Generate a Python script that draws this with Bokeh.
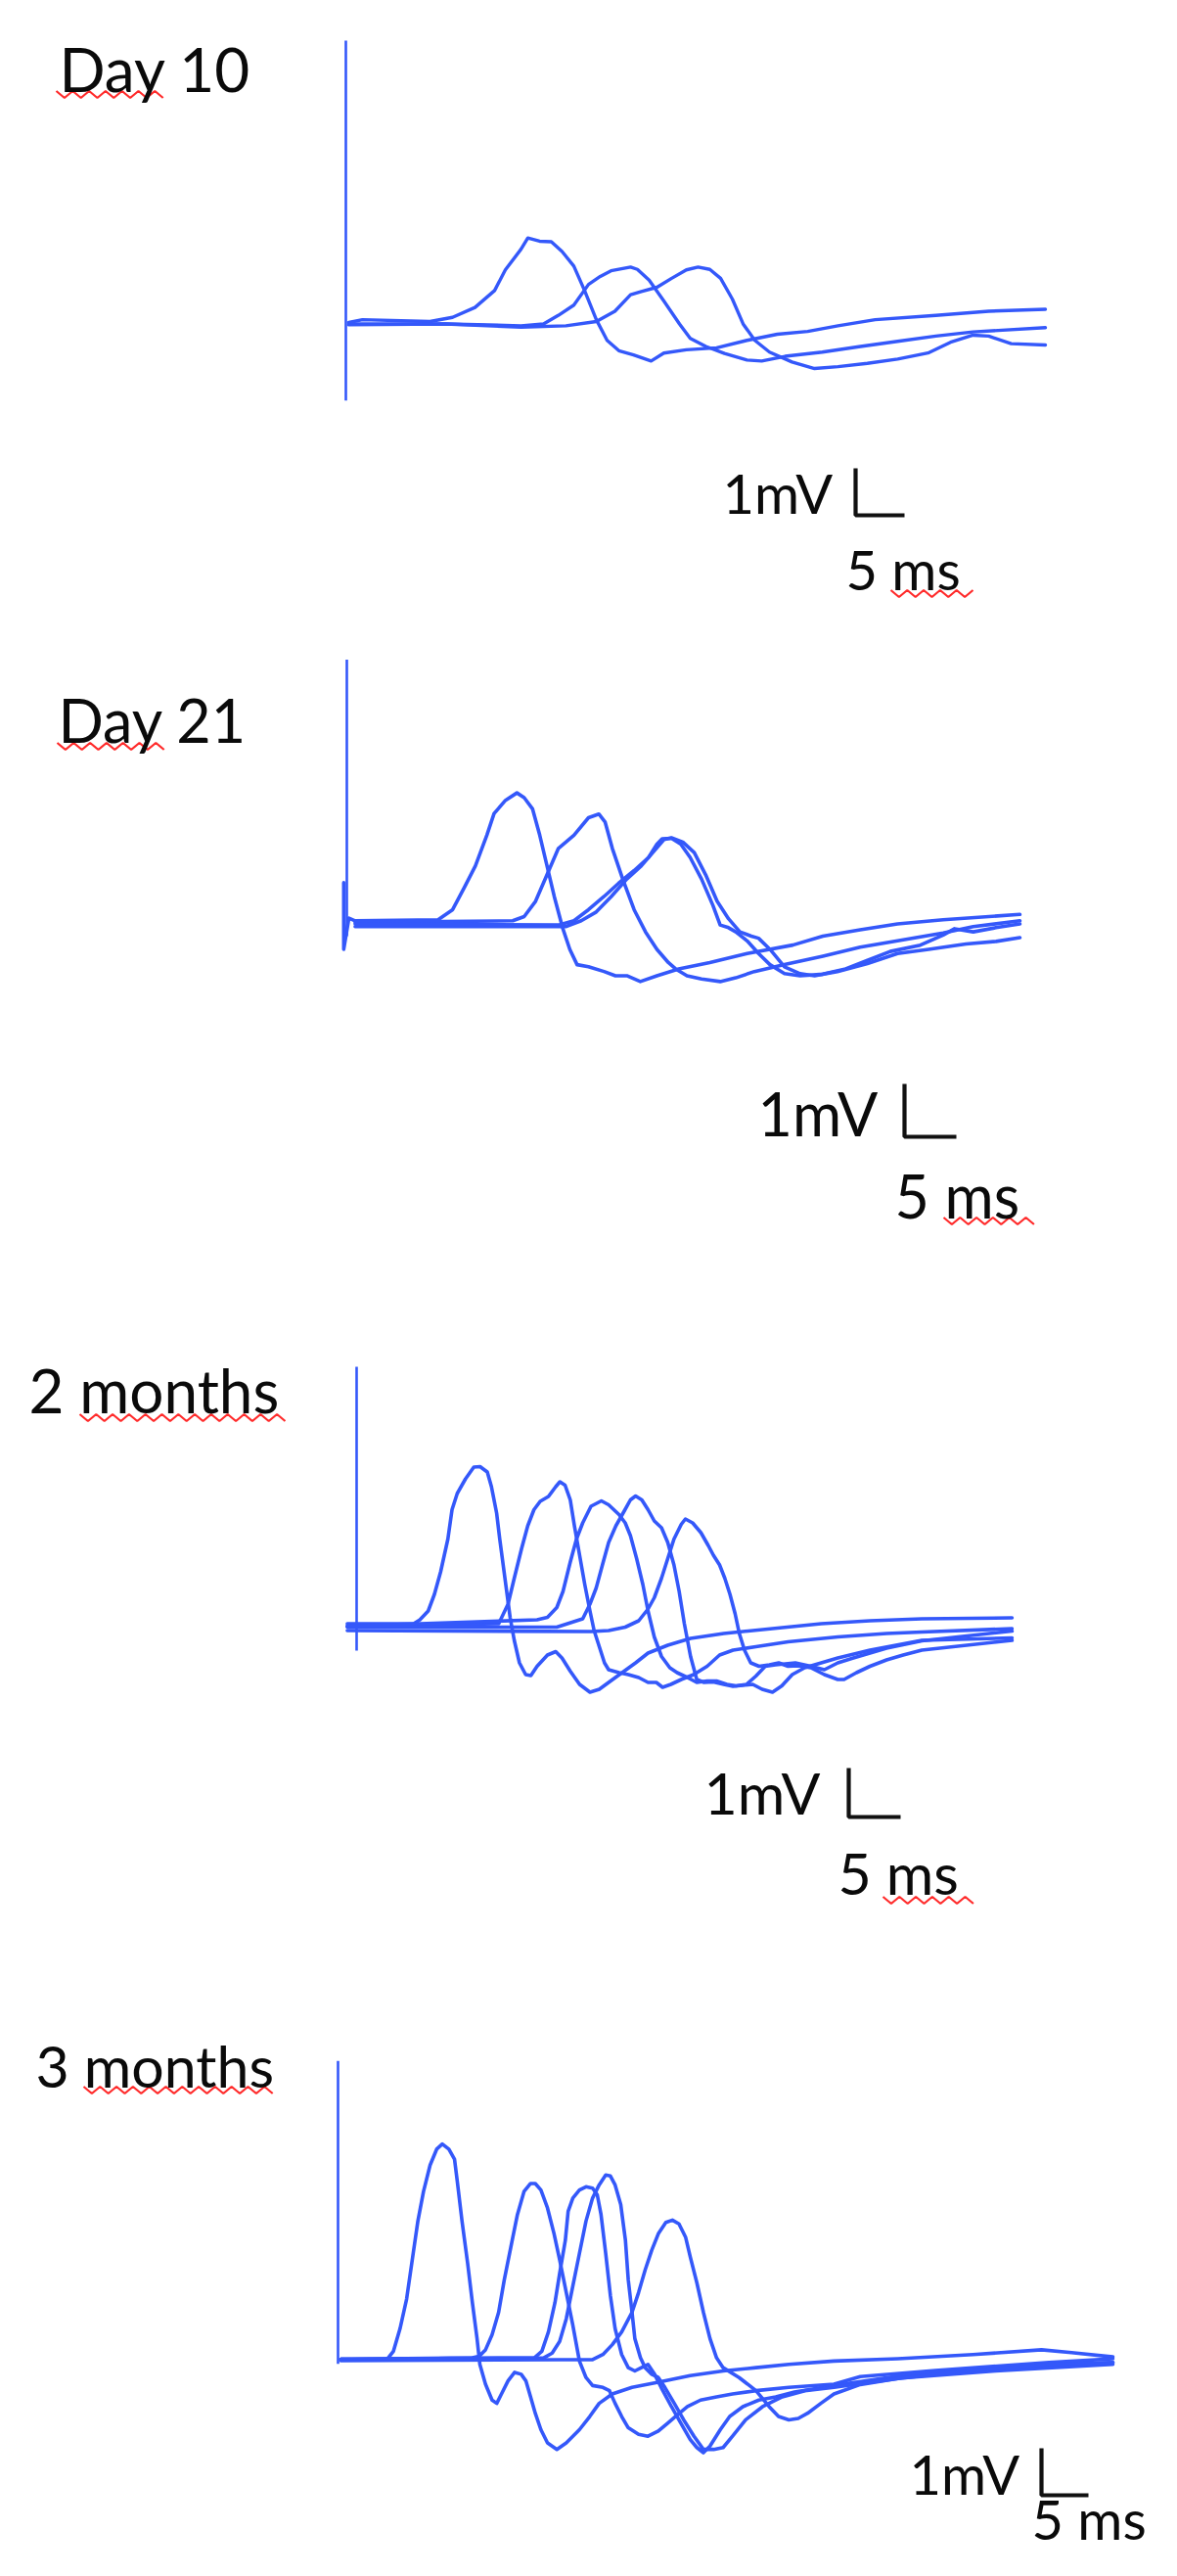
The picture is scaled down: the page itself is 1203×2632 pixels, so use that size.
from bokeh.plotting import figure
from bokeh.layouts import column
from bokeh.models import Range1d, Label
from bokeh.embed import file_html
from bokeh.resources import INLINE

# ---------------- data (time in ms from stimulus, potential in mV) ----------------
SCALE_MV = 1.0
SCALE_MS = 5.0

# Day 10
D10_STIM_T = [0.0, 0.0]
D10_STIM_MV = [6.0, -1.66]
D10_A_T = [0.3, 1.7, 8.6, 10.9, 13.2, 15.2, 16.3, 17.9, 18.6, 19.8, 21.0, 22.1, 23.3, 24.4, 25.6, 26.7, 27.9, 29.4, 31.2, 32.5, 34.8, 37.9, 41.0, 44.1, 47.2, 50.3, 54.1, 60.3, 65.7, 71.5]
D10_A_MV = [0.0, 0.06, 0.02, 0.11, 0.32, 0.68, 1.12, 1.56, 1.80, 1.73, 1.72, 1.51, 1.20, 0.68, 0.06, -0.38, -0.60, -0.69, -0.82, -0.65, -0.58, -0.54, -0.38, -0.25, -0.19, -0.07, 0.06, 0.15, 0.24, 0.28]
D10_B_T = [0.3, 10.2, 17.9, 20.2, 21.7, 23.3, 24.8, 26.0, 27.1, 29.1, 29.8, 31.0, 32.5, 34.1, 35.2, 36.8, 38.7, 41.0, 42.5, 44.9, 48.7, 52.6, 56.4, 60.3, 64.1, 71.5]
D10_B_MV = [-0.03, -0.03, -0.07, -0.03, 0.15, 0.37, 0.81, 0.98, 1.10, 1.18, 1.13, 0.90, 0.46, -0.03, -0.34, -0.51, -0.66, -0.80, -0.82, -0.72, -0.63, -0.51, -0.40, -0.29, -0.20, -0.11]
D10_C_T = [0.3, 10.2, 17.9, 22.5, 25.6, 27.5, 29.1, 30.2, 31.8, 33.3, 34.8, 36.0, 37.2, 38.3, 39.5, 40.6, 41.8, 43.3, 45.6, 47.9, 50.3, 53.3, 56.4, 59.5, 61.8, 64.1, 65.7, 68.0, 71.5]
D10_C_MV = [-0.05, -0.03, -0.10, -0.07, 0.02, 0.24, 0.59, 0.66, 0.75, 0.94, 1.12, 1.18, 1.13, 0.94, 0.50, -0.03, -0.38, -0.63, -0.84, -0.98, -0.94, -0.87, -0.78, -0.65, -0.42, -0.27, -0.29, -0.45, -0.48]

# Day 21
D21_STIM_T = [0.0, 0.0]
D21_STIM_MV = [4.94, -0.29]
D21_A_T = [-0.3, -0.3, 0.2, 0.8, 8.8, 10.2, 11.3, 12.4, 13.5, 14.2, 15.3, 16.4, 17.1, 17.9, 18.6, 19.3, 20.0, 20.8, 21.5, 22.2, 23.3, 24.8, 25.9, 27.0, 28.3, 29.9, 32.0, 35.0, 38.6, 43.0, 45.9, 49.5, 53.1, 57.5, 64.9]
D21_A_MV = [0.72, -0.54, 0.05, 0.0, 0.02, 0.21, 0.62, 1.04, 1.62, 2.03, 2.28, 2.42, 2.33, 2.12, 1.62, 1.04, 0.46, -0.13, -0.54, -0.83, -0.87, -0.96, -1.04, -1.04, -1.15, -1.04, -0.91, -0.79, -0.62, -0.46, -0.29, -0.17, -0.06, 0.02, 0.12]
D21_B_T = [0.8, 16.0, 17.1, 18.2, 19.3, 20.4, 21.9, 23.3, 24.3, 24.9, 25.6, 26.6, 27.7, 28.8, 29.9, 31.0, 31.7, 32.8, 34.2, 36.0, 37.5, 39.3, 42.2, 45.9, 49.5, 53.1, 57.5, 60.4, 64.9]
D21_B_MV = [-0.03, 0.0, 0.08, 0.37, 0.87, 1.37, 1.62, 1.95, 2.02, 1.87, 1.37, 0.79, 0.21, -0.21, -0.54, -0.79, -0.91, -1.04, -1.10, -1.15, -1.08, -0.96, -0.83, -0.67, -0.50, -0.38, -0.23, -0.11, 0.0]
D21_C_T = [0.8, 20.4, 21.9, 23.3, 24.8, 26.2, 27.7, 29.1, 29.9, 30.4, 31.3, 32.2, 33.1, 34.2, 35.3, 36.0, 36.8, 37.5, 38.6, 39.7, 40.8, 42.2, 43.7, 45.9, 48.1, 50.2, 52.4, 55.3, 57.5, 58.6, 60.4, 62.6, 64.9]
D21_C_MV = [-0.06, -0.08, 0.0, 0.21, 0.46, 0.71, 0.95, 1.20, 1.45, 1.55, 1.56, 1.45, 1.20, 0.79, 0.29, -0.08, -0.13, -0.21, -0.38, -0.62, -0.83, -1.00, -1.04, -1.01, -0.91, -0.75, -0.58, -0.46, -0.27, -0.15, -0.21, -0.13, -0.06]
D21_D_T = [0.8, 21.1, 22.6, 24.0, 25.5, 27.0, 28.4, 29.5, 30.6, 31.3, 32.4, 33.5, 34.6, 35.7, 36.8, 37.9, 39.0, 39.7, 40.8, 42.2, 43.7, 45.1, 47.3, 50.2, 53.1, 56.1, 59.7, 62.6, 64.9]
D21_D_MV = [-0.11, -0.11, 0.0, 0.16, 0.46, 0.79, 1.04, 1.29, 1.54, 1.57, 1.49, 1.29, 0.87, 0.37, 0.04, -0.21, -0.29, -0.33, -0.54, -0.87, -1.00, -1.04, -0.96, -0.81, -0.62, -0.54, -0.44, -0.39, -0.32]

# 2 months
M2_STIM_T = [0.0, 0.0]
M2_STIM_MV = [5.3, -0.5]
M2_A_T = [-0.9, 5.5, 6.1, 6.9, 7.5, 8.1, 8.8, 9.2, 9.7, 10.5, 11.3, 11.9, 12.6, 13.0, 13.5, 13.8, 14.3, 14.8, 15.2, 15.7, 16.3, 16.8, 17.4, 18.4, 19.2, 19.8, 20.6, 21.5, 22.5, 23.4, 24.3, 25.6, 26.9, 28.1, 30.0, 32.2, 35.4, 40.1, 44.8, 49.5, 54.5, 63.2]
M2_A_MV = [0.05, 0.05, 0.13, 0.31, 0.65, 1.11, 1.78, 2.38, 2.71, 3.01, 3.25, 3.26, 3.15, 2.85, 2.31, 1.78, 0.98, 0.18, -0.29, -0.75, -0.99, -1.01, -0.82, -0.59, -0.52, -0.65, -0.92, -1.19, -1.35, -1.29, -1.15, -0.95, -0.75, -0.55, -0.39, -0.25, -0.15, -0.05, 0.05, 0.11, 0.15, 0.17]
M2_B_T = [-0.9, 13.7, 14.6, 15.2, 15.9, 16.5, 17.1, 17.7, 18.5, 19.2, 19.6, 20.1, 20.6, 21.0, 21.5, 22.0, 22.5, 22.9, 23.4, 23.9, 24.3, 25.3, 26.2, 27.2, 28.1, 28.9, 29.5, 30.3, 31.3, 32.5, 33.8, 35.0, 36.3, 38.5, 41.6, 46.4, 51.1, 54.5, 63.2]
M2_B_MV = [0.0, 0.05, 0.45, 0.98, 1.58, 2.05, 2.38, 2.55, 2.65, 2.85, 2.95, 2.88, 2.58, 2.05, 1.45, 0.85, 0.31, -0.09, -0.42, -0.75, -0.89, -0.95, -0.99, -1.05, -1.15, -1.15, -1.25, -1.19, -1.09, -0.99, -0.82, -0.59, -0.49, -0.42, -0.32, -0.22, -0.15, -0.12, -0.05]
M2_C_T = [-0.9, 17.4, 18.4, 19.3, 19.9, 20.6, 21.2, 21.8, 22.6, 23.6, 24.3, 25.3, 25.9, 26.4, 27.0, 27.6, 28.1, 28.7, 29.4, 30.2, 30.9, 31.9, 32.8, 33.8, 34.7, 35.7, 36.6, 37.6, 38.5, 39.4, 40.4, 42.3, 43.8, 45.1, 46.4, 47.9, 51.1, 54.5, 63.2]
M2_C_MV = [0.0, 0.13, 0.18, 0.38, 0.71, 1.31, 1.78, 2.11, 2.45, 2.56, 2.48, 2.28, 2.11, 1.85, 1.38, 0.85, 0.31, -0.22, -0.62, -0.85, -0.95, -1.05, -1.15, -1.12, -1.12, -1.19, -1.22, -1.19, -1.02, -0.82, -0.79, -0.75, -0.82, -0.89, -0.75, -0.65, -0.45, -0.30, -0.10]
M2_D_T = [-0.9, 19.3, 21.8, 22.5, 23.1, 23.7, 24.3, 25.0, 25.8, 26.4, 26.9, 27.5, 28.1, 28.7, 29.4, 30.0, 30.6, 31.1, 31.6, 32.2, 32.8, 33.5, 34.4, 35.4, 36.3, 37.2, 38.2, 39.1, 40.1, 41.0, 42.0, 43.2, 44.8, 46.4, 49.5, 54.5, 63.2]
M2_D_MV = [-0.02, -0.02, 0.15, 0.45, 0.78, 1.25, 1.71, 2.05, 2.35, 2.58, 2.66, 2.58, 2.38, 2.15, 2.01, 1.71, 1.25, 0.71, 0.05, -0.62, -1.09, -1.15, -1.14, -1.19, -1.23, -1.21, -1.19, -1.29, -1.35, -1.22, -0.99, -0.85, -0.75, -0.65, -0.49, -0.29, -0.24]
M2_E_T = [-0.9, 22.6, 24.3, 25.9, 27.2, 28.1, 28.7, 29.4, 30.0, 30.6, 31.3, 31.7, 32.4, 33.2, 33.9, 34.4, 35.0, 35.5, 36.0, 36.5, 36.9, 37.4, 38.0, 38.8, 39.8, 40.7, 41.6, 42.6, 43.8, 45.1, 46.4, 47.0, 48.2, 49.5, 51.1, 52.7, 54.5, 63.2]
M2_E_MV = [-0.09, -0.11, -0.09, -0.02, 0.11, 0.35, 0.58, 0.98, 1.38, 1.78, 2.08, 2.19, 2.11, 1.91, 1.65, 1.45, 1.25, 0.98, 0.65, 0.25, -0.15, -0.49, -0.75, -0.82, -0.79, -0.75, -0.82, -0.81, -0.85, -0.99, -1.09, -1.09, -0.95, -0.82, -0.69, -0.59, -0.49, -0.29]

# 3 months
M3_STIM_T = [0.0, 0.0]
M3_STIM_MV = [6.35, -0.1]
M3_A_T = [0.3, 2.8, 5.2, 5.9, 6.6, 7.3, 8.0, 8.5, 9.1, 9.8, 10.5, 11.1, 11.8, 12.4, 12.7, 13.2, 13.8, 14.3, 14.8, 15.1, 15.7, 16.4, 16.9, 17.4, 18.1, 18.8, 19.5, 20.0, 20.5, 21.0, 21.6, 22.3, 23.3, 24.3, 25.7, 26.8, 27.8, 29.2, 31.3, 34.1, 37.5, 41.0, 44.5, 48.0, 52.8, 59.6, 67.6, 74.9, 78.1, 82.5]
M3_A_MV = [0.0, -0.01, -0.01, 0.17, 0.65, 1.28, 2.25, 2.94, 3.57, 4.13, 4.47, 4.58, 4.47, 4.26, 3.78, 2.94, 2.04, 1.21, 0.44, -0.11, -0.53, -0.87, -0.94, -0.74, -0.46, -0.28, -0.32, -0.46, -0.80, -1.15, -1.50, -1.78, -1.92, -1.78, -1.50, -1.22, -0.94, -0.74, -0.60, -0.49, -0.35, -0.25, -0.18, -0.11, -0.04, 0.01, 0.10, 0.20, 0.14, 0.05]
M3_B_T = [0.3, 14.3, 15.0, 15.7, 16.4, 17.1, 17.7, 18.4, 19.1, 19.8, 20.5, 21.0, 21.6, 22.3, 23.0, 23.6, 24.3, 25.0, 25.7, 26.4, 27.1, 28.2, 28.9, 29.5, 30.2, 30.9, 32.0, 33.0, 34.1, 35.1, 36.1, 37.2, 38.6, 40.3, 42.0, 44.5, 48.0, 52.8, 55.6, 63.6, 75.7, 82.5]
M3_B_MV = [0.0, 0.03, 0.06, 0.20, 0.52, 1.00, 1.69, 2.39, 3.08, 3.57, 3.74, 3.74, 3.60, 3.22, 2.67, 2.11, 1.42, 0.72, -0.04, -0.39, -0.56, -0.60, -0.67, -0.94, -1.22, -1.46, -1.60, -1.64, -1.53, -1.36, -1.19, -1.01, -0.87, -0.80, -0.74, -0.67, -0.60, -0.53, -0.37, -0.24, -0.07, 0.01]
M3_C_T = [0.3, 20.9, 21.7, 22.4, 23.1, 23.6, 24.2, 24.5, 25.0, 25.7, 26.4, 27.1, 27.6, 28.0, 28.5, 29.0, 29.5, 30.2, 30.9, 31.6, 32.3, 33.0, 33.7, 34.4, 35.5, 36.5, 37.5, 38.2, 38.9, 39.6, 40.7, 41.7, 43.1, 44.8, 46.6, 48.6, 50.7, 52.8, 60.0, 70.0, 82.5]
M3_C_MV = [0.0, 0.03, 0.17, 0.58, 1.21, 1.83, 2.53, 3.15, 3.43, 3.60, 3.67, 3.64, 3.50, 3.08, 2.25, 1.35, 0.65, 0.10, -0.18, -0.25, -0.18, -0.11, -0.32, -0.60, -1.01, -1.36, -1.71, -1.88, -1.99, -1.85, -1.50, -1.22, -1.01, -0.87, -0.80, -0.70, -0.63, -0.56, -0.35, -0.20, -0.07]
M3_D_T = [0.3, 21.9, 22.8, 23.6, 24.3, 25.0, 25.7, 26.4, 27.1, 27.8, 28.5, 29.0, 29.5, 30.1, 30.6, 30.9, 31.3, 31.6, 32.2, 32.7, 33.4, 34.1, 34.8, 35.8, 36.8, 37.9, 38.9, 40.0, 41.0, 42.0, 43.4, 45.2, 47.3, 49.7, 52.8, 60.0, 70.0, 82.5]
M3_D_MV = [0.0, 0.03, 0.13, 0.38, 0.86, 1.56, 2.25, 2.94, 3.43, 3.71, 3.92, 3.90, 3.71, 3.29, 2.53, 1.69, 1.00, 0.44, 0.03, -0.18, -0.32, -0.39, -0.60, -0.94, -1.29, -1.64, -1.92, -1.92, -1.88, -1.64, -1.29, -1.01, -0.80, -0.67, -0.60, -0.40, -0.25, -0.11]
M3_E_T = [0.3, 23.6, 27.1, 28.2, 29.2, 30.2, 31.3, 32.0, 32.7, 33.4, 34.1, 34.9, 35.6, 36.3, 37.0, 37.5, 38.2, 38.9, 39.6, 40.3, 41.0, 42.7, 44.5, 45.9, 46.9, 48.0, 49.0, 50.0, 51.4, 52.8, 55.6, 59.6, 67.6, 75.7, 82.5]
M3_E_MV = [-0.03, -0.01, -0.01, 0.10, 0.31, 0.58, 1.00, 1.42, 1.90, 2.32, 2.67, 2.91, 2.96, 2.88, 2.60, 2.18, 1.63, 1.00, 0.44, 0.03, -0.18, -0.39, -0.67, -1.01, -1.22, -1.29, -1.26, -1.15, -0.94, -0.74, -0.54, -0.41, -0.24, -0.11, -0.07]

TITLES = ["Day 10", "Day 21", "2 months", "3 months"]
MV_LABEL = "1mV"
MS_LABEL = "5 ms"

# ---------------- layout / style ----------------
TRACE_COLOR = "#3458fa"
TEXT_FONT = "Lato"
MARGIN = 8
FIG_W = 1187
BASELINE_FIX = 0.27   # em fraction: lift labels so their alphabetic baseline sits where intended

PANELS = [
    dict(title=TITLES[0],
         traces=[(D10_A_T, D10_A_MV), (D10_B_T, D10_B_MV), (D10_C_T, D10_C_MV)],
         stim=(D10_STIM_T, D10_STIM_MV),
         top=8, height=642, x0=361, yb=337, ppms=10.0, ppmv=48.0,
         title_xy=(68, 94), title_size=62, mv_xy=(746, 526), ms_xy=(872, 604), scale_size=56,
         bar_xy=(882, 534), squig=[(65, 182, 104), (918, 1002, 614)], lw=3.4),
    dict(title=TITLES[1],
         traces=[(D21_A_T, D21_A_MV), (D21_B_T, D21_B_MV), (D21_C_T, D21_C_MV), (D21_D_T, D21_D_MV)],
         stim=(D21_STIM_T, D21_STIM_MV),
         top=650, height=700, x0=362, yb=948.3, ppms=10.6, ppmv=54.0,
         title_xy=(67, 759), title_size=61, mv_xy=(782, 1161), ms_xy=(922, 1245), scale_size=61,
         bar_xy=(932, 1169), squig=[(66, 177, 770), (972, 1067, 1255)], lw=3.6),
    dict(title=TITLES[2],
         traces=[(M2_A_T, M2_A_MV), (M2_B_T, M2_B_MV), (M2_C_T, M2_C_MV), (M2_D_T, M2_D_MV), (M2_E_T, M2_E_MV)],
         stim=(M2_STIM_T, M2_STIM_MV),
         top=1350, height=650, x0=372, yb=1669, ppms=10.6, ppmv=50.0,
         title_xy=(37, 1444), title_size=62, mv_xy=(727, 1855), ms_xy=(864, 1937), scale_size=59,
         bar_xy=(875, 1864), squig=[(89, 305, 1456), (910, 1005, 1949)], lw=3.6),
    dict(title=TITLES[3],
         traces=[(M3_A_T, M3_A_MV), (M3_B_T, M3_B_MV), (M3_C_T, M3_C_MV), (M3_D_T, M3_D_MV), (M3_E_T, M3_E_MV)],
         stim=(M3_STIM_T, M3_STIM_MV),
         top=2000, height=624, x0=353, yb=2418, ppms=9.6, ppmv=48.0,
         title_xy=(44, 2134), title_size=59, mv_xy=(937, 2550), ms_xy=(1062, 2596), scale_size=56,
         bar_xy=(1072, 2557), squig=[(93, 289, 2143)], lw=3.6),
]


def to_data(P, px, py):
    return (px - P["x0"]) / P["ppms"], (P["yb"] - py) / P["ppmv"]


def add_text(p, P, xy, text, size):
    x, y = to_data(P, xy[0], xy[1] - BASELINE_FIX * size)
    p.add_layout(Label(x=x, y=y, text=text, text_font=TEXT_FONT,
                       text_font_size=f"{size}px", text_baseline="alphabetic",
                       text_align="left", text_color="#0a0a0a"))


def make_panel(P):
    xs = (MARGIN - P["x0"]) / P["ppms"]
    xe = (MARGIN + FIG_W - P["x0"]) / P["ppms"]
    yt = (P["yb"] - P["top"]) / P["ppmv"]
    ybm = (P["yb"] - P["top"] - P["height"]) / P["ppmv"]
    p = figure(width=FIG_W, height=P["height"], x_range=Range1d(xs, xe), y_range=Range1d(ybm, yt),
               output_backend="svg", toolbar_location=None, x_axis_type=None, y_axis_type=None,
               min_border=0, outline_line_color=None, background_fill_color="white",
               border_fill_color="white")

    st, sv = P["stim"]
    p.line(st, sv, line_color=TRACE_COLOR, line_width=2.6)
    for t, v in P["traces"]:
        p.line(t, v, line_color=TRACE_COLOR, line_width=P["lw"], line_join="round", line_cap="round")

    add_text(p, P, P["title_xy"], P["title"], P["title_size"])
    add_text(p, P, P["mv_xy"], MV_LABEL, P["scale_size"])
    add_text(p, P, P["ms_xy"], MS_LABEL, P["scale_size"])

    # scale bar (1 mV vertical, 5 ms horizontal)
    bx, by = to_data(P, *P["bar_xy"])
    p.line([bx, bx, bx + SCALE_MS], [by + SCALE_MV, by, by], line_color="#111111", line_width=4.2)

    # red spell-check squiggles (decoration)
    for xl, xr, yc in P["squig"]:
        pts_x, pts_y = [], []
        k = 0
        x = xl
        while x <= xr:
            dx, dy = to_data(P, x, yc - 3.5 if k % 2 == 0 else yc + 3.5)
            pts_x.append(dx)
            pts_y.append(dy)
            x += 8.4
            k += 1
        p.line(pts_x, pts_y, line_color="#ff2a2a", line_width=2.2)
    return p


figs = [make_panel(P) for P in PANELS]
layout = column(*figs, spacing=0)

open("out.html", "w").write(file_html(layout, INLINE))
